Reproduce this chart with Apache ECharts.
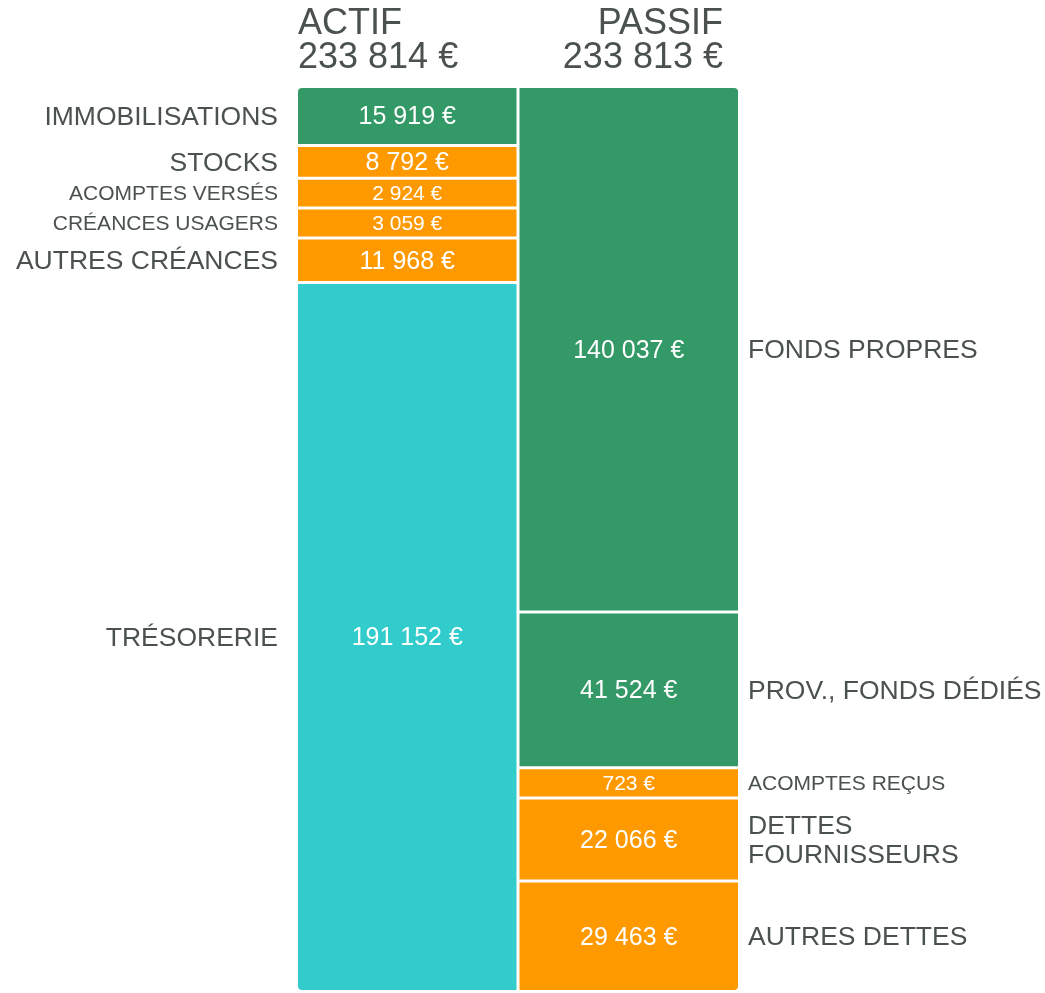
<!DOCTYPE html>
<html>
<head>
<meta charset="utf-8">
<title>Bilan</title>
<script src="https://cdn.jsdelivr.net/npm/echarts@6/dist/echarts.min.js"></script>
<style>
  html, body { margin: 0; padding: 0; background: #fff; }
  #main { width: 1045px; height: 993px; }
</style>
</head>
<body>
<div id="main"></div>
<script>
// données du bilan
const columns = ['ACTIF', 'PASSIF'];
const actifLabels = ['IMMOBILISATIONS', 'STOCKS', 'ACOMPTES VERSÉS', 'CRÉANCES USAGERS', 'AUTRES CRÉANCES', 'TRÉSORERIE'];
const actifValues = [15919, 8792, 2924, 3059, 11968, 191152];
const actifKinds = ['stable', 'circulant', 'circulant', 'circulant', 'circulant', 'tresorerie'];
const passifLabels = ['FONDS PROPRES', 'PROV., FONDS DÉDIÉS', 'ACOMPTES REÇUS', 'DETTES FOURNISSEURS', 'AUTRES DETTES'];
const passifValues = [140037, 41524, 723, 22066, 29463];
const passifKinds = ['stable', 'stable', 'circulant', 'circulant', 'circulant'];

const colors = { stable: '#339966', circulant: '#ff9900', tresorerie: '#33cccc' };
const MIN_SHARE = 0.0345; // hauteur mini des petits postes
const FONT = '"Liberation Sans", Arial, Helvetica, sans-serif';
const TEXT = '#4b5050';
const W = 1045;

function euro(v) {
  return String(v).replace(/\B(?=(\d{3})+(?!\d))/g, '\u00a0') + '\u00a0€';
}
function sum(arr) { return arr.reduce((a, b) => a + b, 0); }

// coupe un libellé trop long pour la place dispo
const ctx = document.createElement('canvas').getContext('2d');
function wrap(text, size, maxW) {
  ctx.font = size + 'px ' + FONT;
  const words = text.split(' ');
  const lines = [];
  let line = '';
  words.forEach(w => {
    const test = line ? line + ' ' + w : w;
    if (line && ctx.measureText(test).width > maxW) {
      lines.push(line);
      line = w;
    } else {
      line = test;
    }
  });
  lines.push(line);
  return lines.join('\n');
}

// empile les postes d'une colonne (parts de 0 à 1)
function buildColumn(col, labels, values, kinds) {
  const floor = sum(values) * MIN_SHARE;
  const shown = values.map(v => Math.max(v, floor));
  const tot = sum(shown);
  let acc = 0;
  return values.map((v, i) => {
    const start = acc / tot;
    acc += shown[i];
    return {
      col: col, start: start, end: acc / tot, value: v, name: labels[i], kind: kinds[i],
      first: i === 0, last: i === values.length - 1, small: v < floor
    };
  });
}

const segments = buildColumn(0, actifLabels, actifValues, actifKinds)
  .concat(buildColumn(1, passifLabels, passifValues, passifKinds));

function renderItem(params, api) {
  const s = segments[params.dataIndex];
  const top = api.coord([s.col, s.start]);
  const bot = api.coord([s.col, s.end]);
  const band = api.size([1, 0])[0];
  const x0 = top[0] - band / 2 + (s.col ? 1.5 : 0);
  const x1 = top[0] + band / 2 - (s.col ? 0 : 1.5);
  const y0 = top[1];
  const y1 = bot[1] - 3;
  const cy = (y0 + y1) / 2 + 1.5;
  const radius = [0, 0, 0, 0];
  if (s.first) radius[s.col ? 1 : 0] = 4;
  if (s.last) radius[s.col ? 2 : 3] = 4;
  const labelSize = s.small ? 21 : 26.5;
  const lx = s.col ? x1 + 10 : x0 - 20;
  return {
    type: 'group',
    children: [
      { type: 'rect', shape: { x: x0, y: y0, width: x1 - x0, height: y1 - y0, r: radius },
        style: { fill: colors[s.kind] } },
      { type: 'text', style: {
          text: euro(s.value), x: (x0 + x1) / 2, y: cy, align: 'center', verticalAlign: 'middle',
          fill: '#fff', fontSize: s.small ? 21 : 25, fontFamily: FONT } },
      { type: 'text', style: {
          text: s.col ? wrap(s.name, labelSize, W - lx) : s.name, x: lx, y: cy,
          align: s.col ? 'left' : 'right', verticalAlign: 'middle',
          fill: TEXT, fontSize: labelSize, fontFamily: FONT, lineHeight: 29 } }
    ]
  };
}

const headFont = { fill: TEXT, fontSize: 36, fontFamily: FONT };

const chart = echarts.init(document.getElementById('main'));
chart.setOption({
  animation: false,
  graphic: [
    { type: 'text', left: 298, top: 6, style: Object.assign({ text: columns[0] }, headFont) },
    { type: 'text', left: 298, top: 40, style: Object.assign({ text: euro(sum(actifValues)) }, headFont) },
    { type: 'text', right: 322, top: 6, style: Object.assign({ text: columns[1] }, headFont) },
    { type: 'text', right: 322, top: 40, style: Object.assign({ text: euro(sum(passifValues)) }, headFont) }
  ],
  grid: { left: 298, width: 440, top: 88, height: 908 },
  xAxis: { type: 'category', data: columns, show: false },
  yAxis: { type: 'value', min: 0, max: 1, inverse: true, show: false },
  series: [{
    type: 'custom',
    renderItem: renderItem,
    clip: false,
    data: segments.map(s => [s.col, s.start, s.end, s.value])
  }]
});
</script>
</body>
</html>
